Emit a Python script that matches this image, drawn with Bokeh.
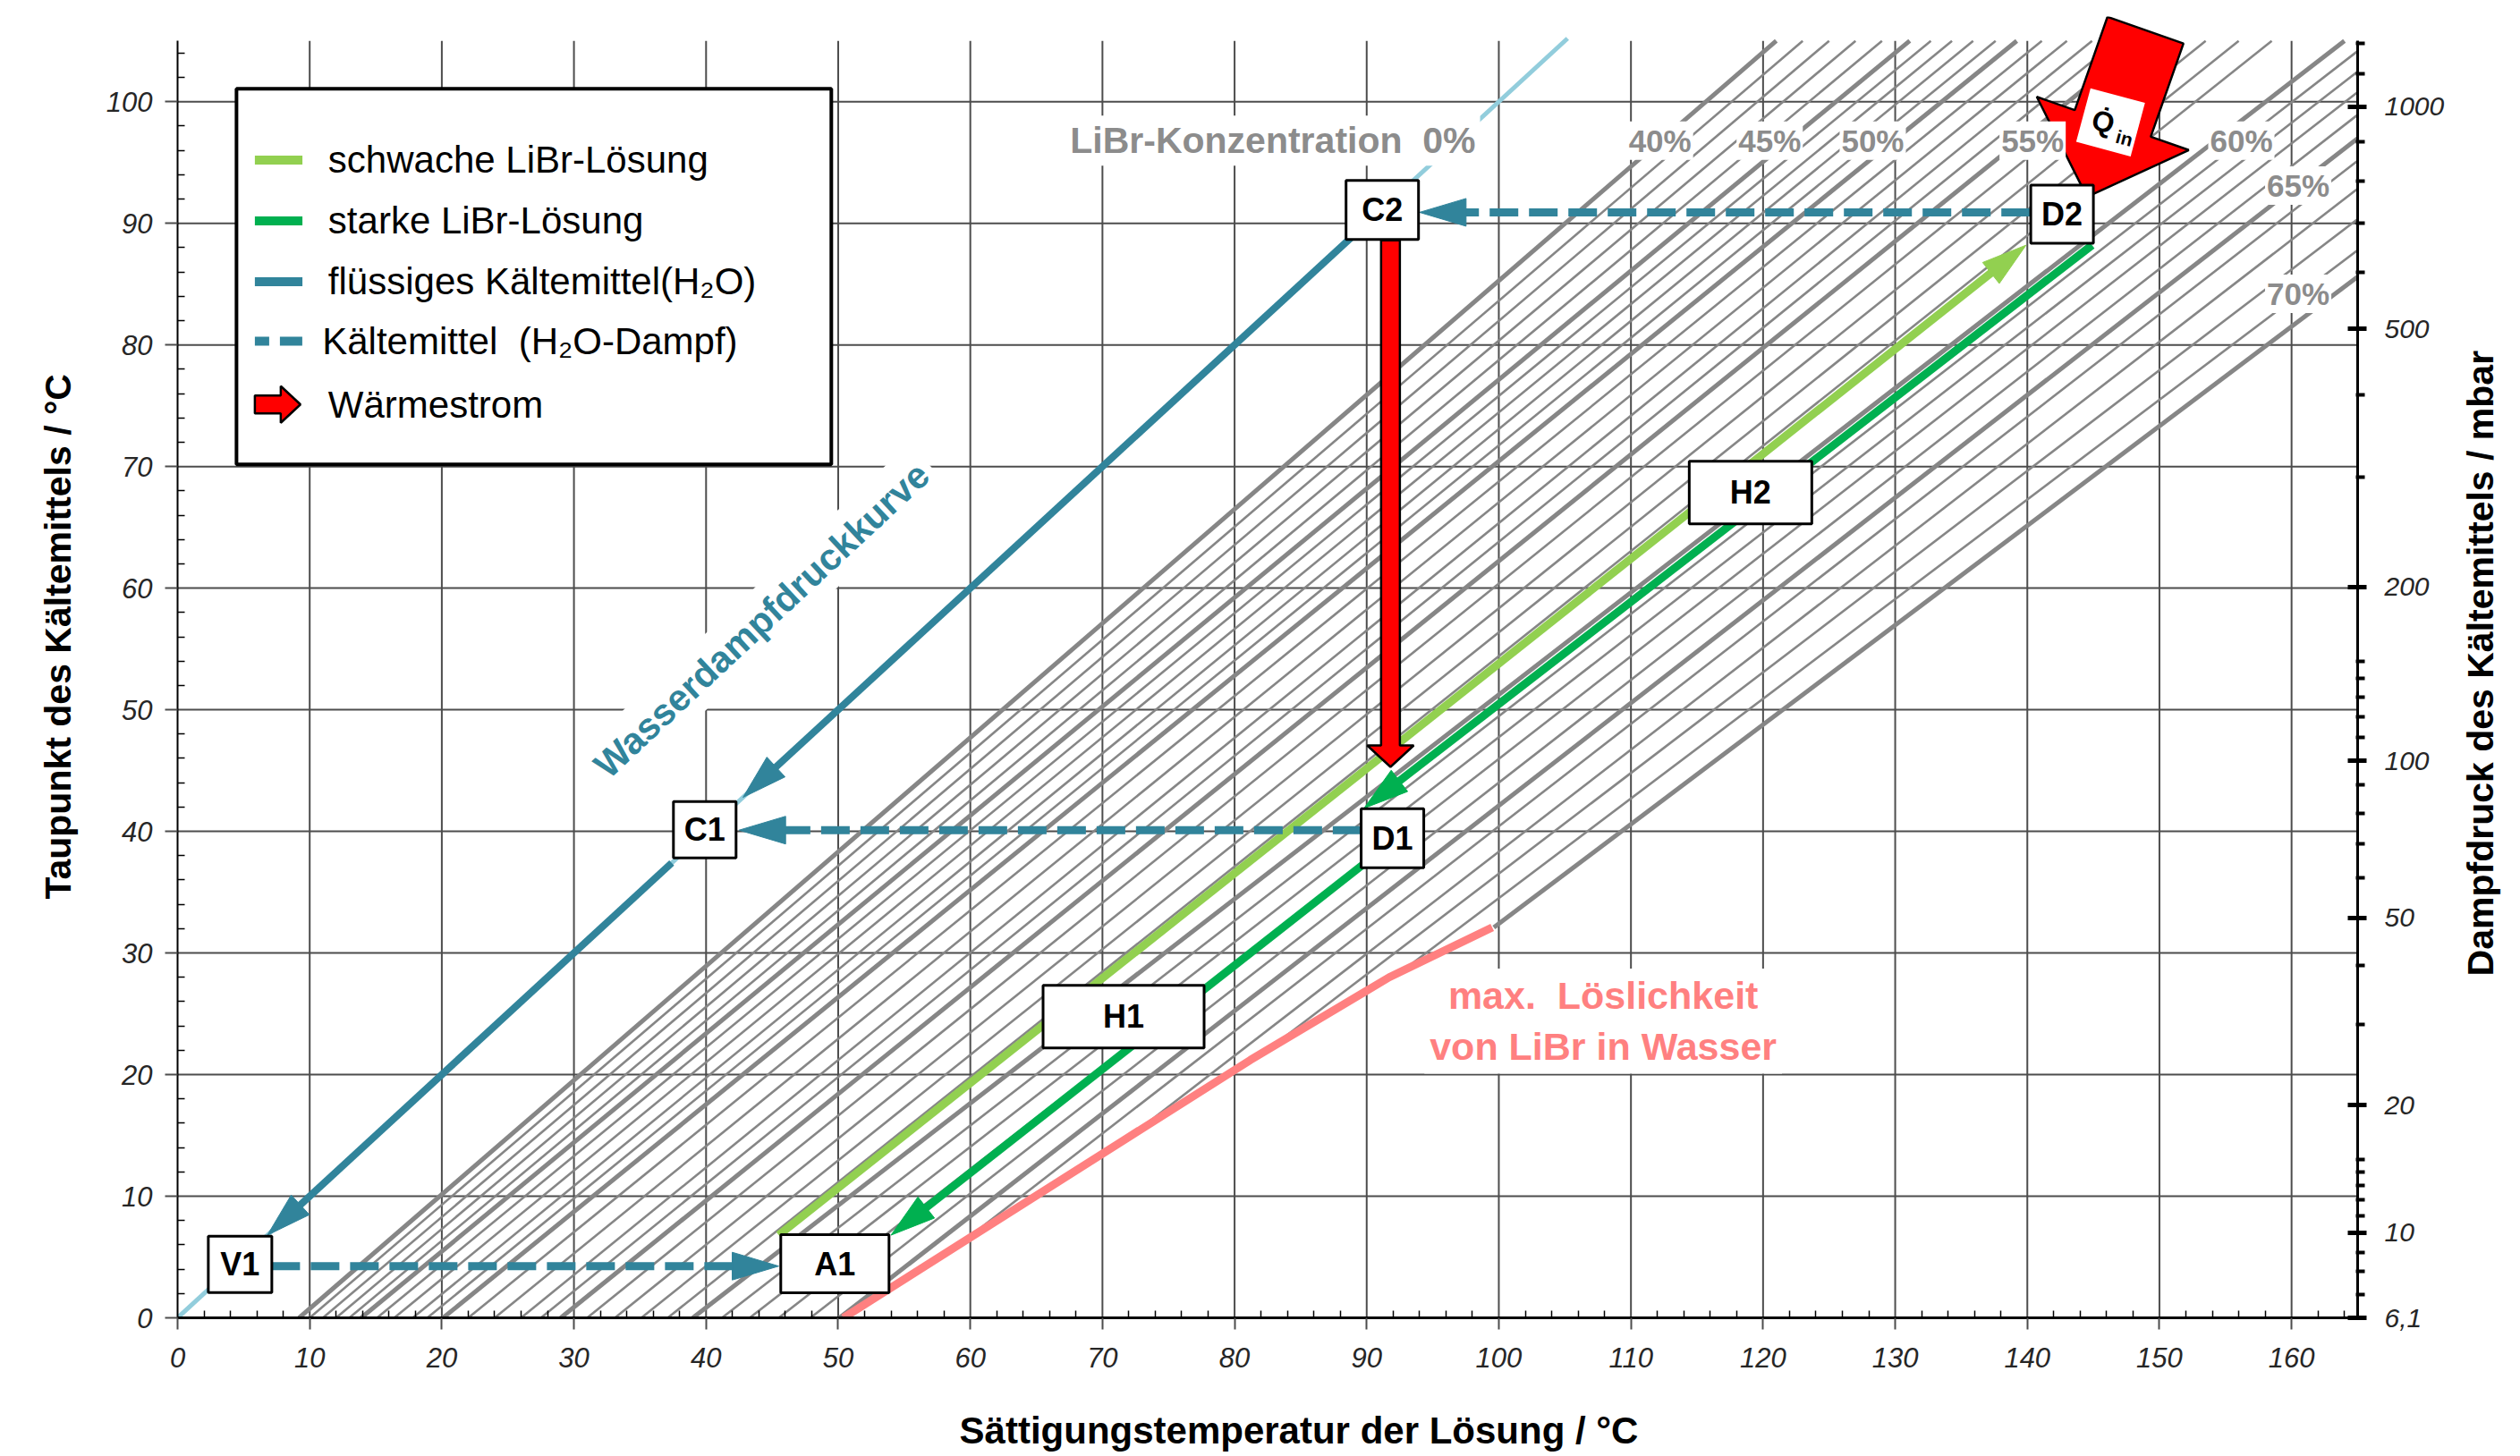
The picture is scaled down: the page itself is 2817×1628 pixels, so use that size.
import math
from bokeh.plotting import figure
from bokeh.models import Range1d, LinearAxis, FixedTicker, Label
from bokeh.core.properties import value
from bokeh.embed import file_html
from bokeh.resources import INLINE

FONT = "Liberation Sans"

# ------------------------------------------------------------------ data
# LiBr concentration isolines (Duehring chart): solution temperature (deg C)
# read at refrigerant dew point 0 deg C and at 105 deg C
libr_conc = list(range(40, 71))
iso_tsol_dew0 = [9.2, 10.0, 11.0, 12.0, 13.0, 13.9, 15.1, 16.4, 17.8, 18.9,
                 20.1, 22.0, 24.0, 26.0, 27.5, 29.0, 31.0, 33.1, 35.1, 37.1,
                 39.0, 41.2, 43.3, 45.5, 47.9, 50.1, 52.0, 54.3, 55.9, 57.9, 60.4]
iso_tsol_dew105 = [121.0, 123.0, 125.0, 127.0, 129.0, 131.1, 132.7, 134.3, 135.9, 137.6,
                   139.2, 141.1, 143.0, 144.9, 146.8, 148.8, 151.0, 153.5, 156.0, 158.5,
                   164.0, 166.0, 168.0, 170.0, 172.2, 174.5, 176.7, 179.5, 182.7, 186.0, 188.7]
conc_label_text = ["40%", "45%", "50%", "55%", "60%", "65%", "70%"]
conc_label_x = [112.2, 120.5, 128.3, 140.4, 156.2, 160.5, 160.5]
conc_label_y = [96.8, 96.8, 96.8, 96.8, 96.8, 93.1, 84.2]

# pure water (0 % LiBr): dew point = saturation temperature
water_t = [0.0, 105.2]

# maximum solubility of LiBr in water (crystallisation limit)
solub_x = [50.4, 81.2, 91.7, 99.5]
solub_y = [0.0, 21.2, 28.0, 32.1]

# cycle states
state_name = ["V1", "A1", "H1", "D1", "C1", "H2", "D2", "C2"]
state_x = [4.73, 49.75, 71.6, 91.95, 39.9, 119.05, 142.63, 91.18]
state_y = [4.39, 4.44, 24.76, 39.43, 40.14, 67.85, 90.74, 91.09]

# process paths (start -> arrow tip)
weak_x, weak_y = [45.5, 139.9], [6.8, 88.2]
strong_hi_x, strong_hi_y = [144.9, 89.8], [88.2, 41.9]
strong_lo_x, strong_lo_y = [89.7, 54.0], [37.25, 6.8]
liquid_hi_t = [91.1, 42.8]
liquid_lo_t = [37.4, 6.8]
vapour_x_from = [7.1, 89.6, 140.2]
vapour_x_to = [45.5, 42.5, 94.0]
vapour_y = [4.25, 40.1, 90.9]
heat_x, heat_y = [91.8, 91.8], [88.6, 45.3]
qin_x, qin_y = [148.94, 144.52], [105.88, 92.17]

# axes
x_major = list(range(0, 161, 10))
x_minor = [v for v in range(2, 165, 2) if v % 10]
y_major = list(range(0, 101, 10))
y_minor = [v for v in range(2, 105, 2) if v % 10]
p_major_label = ["6,1", "10", "20", "50", "100", "200", "500", "1000"]
p_major_dew = [0.0, 7.0, 17.5, 32.9, 45.8, 60.1, 81.3, 99.6]
p_minor_dew = [1.9, 3.8, 5.4, 8.4, 9.7, 10.9, 12.0, 13.0, 24.1, 29.0, 36.2, 39.0,
               41.5, 43.8, 47.7, 49.4, 51.0, 52.6, 54.0, 69.1, 75.9, 86.0, 90.0,
               93.5, 96.7, 102.3, 104.8]
right_title = "Dampfdruck des Kältemittels / mbar"
right_title_start = 28.1   # dew point where the right-hand title begins

legend_text = ["schwache LiBr-Lösung", "starke LiBr-Lösung",
               "flüssiges Kältemittel(H\u2082O)", "Kältemittel\u00a0\u00a0(H\u2082O-Dampf)",
               "Wärmestrom"]

# ------------------------------------------------------------------ styles
GRID = "#4d4d4d"
HATCH = "#868686"
TEAL = "#31849B"
LIGHTBLUE = "#92CDDC"
LGREEN = "#92D050"
DGREEN = "#00B050"
RED = "#FF0000"
SALMON = "#FF8080"
GRAYTXT = "#8c8c8c"
TOP = 105.0
NB = "\u00a0"

X_MAX, Y_MAX = 165.0, 107.0
FW, FH = 2437, 1455
SX, SY = FW / X_MAX, FH / Y_MAX

BOX_W = [71, 121, 180, 70, 70, 137, 70, 81]
BOX_H = [63, 65, 70, 66, 63, 70, 65, 66]

p = figure(frame_width=FW, frame_height=FH,
           x_range=Range1d(0, X_MAX), y_range=Range1d(0, Y_MAX),
           x_axis_type=None, y_axis_type=None,
           output_backend="svg", toolbar_location=None,
           min_border_left=198, min_border_right=182,
           min_border_top=18, min_border_bottom=155)
p.outline_line_color = None
p.background_fill_color = "white"
p.border_fill_color = "white"


def _px(x, y):
    return x * SX, y * SY


def _dt(px, py):
    return px / SX, py / SY


def head_polygon(x0, y0, x1, y1, length, width):
    ax, ay = _px(x0, y0)
    bx, by = _px(x1, y1)
    d = math.hypot(bx - ax, by - ay)
    ux, uy = (bx - ax) / d, (by - ay) / d
    nx, ny = -uy, ux
    cx, cy = bx - ux * length, by - uy * length
    pts = [(bx, by), (cx + nx * width / 2, cy + ny * width / 2),
           (cx - nx * width / 2, cy - ny * width / 2)]
    xs, ys = zip(*[_dt(*q) for q in pts])
    base = _dt(cx + ux * 3, cy + uy * 3)
    return list(xs), list(ys), base


def draw_arrow(x0, y0, x1, y1, color, width, dash="solid", head_len=50, head_w=30):
    hx, hy, (bx, by) = head_polygon(x0, y0, x1, y1, head_len, head_w)
    p.line([x0, bx], [y0, by], line_color=color, line_width=width, line_dash=dash)
    p.patch(hx, hy, fill_color=color, line_color=color, line_width=1)


def block_arrow(x0, y0, x1, y1, shaft_w, head_w, head_len):
    ax, ay = _px(x0, y0)
    bx, by = _px(x1, y1)
    d = math.hypot(bx - ax, by - ay)
    ux, uy = (bx - ax) / d, (by - ay) / d
    nx, ny = -uy, ux
    cx, cy = bx - ux * head_len, by - uy * head_len
    pts = [(ax + nx * shaft_w / 2, ay + ny * shaft_w / 2),
           (cx + nx * shaft_w / 2, cy + ny * shaft_w / 2),
           (cx + nx * head_w / 2, cy + ny * head_w / 2),
           (bx, by),
           (cx - nx * head_w / 2, cy - ny * head_w / 2),
           (cx - nx * shaft_w / 2, cy - ny * shaft_w / 2),
           (ax - nx * shaft_w / 2, ay - ny * shaft_w / 2)]
    xs, ys = zip(*[_dt(*q) for q in pts])
    return list(xs), list(ys)


# ------------------------------------------------------------------ grid
gx = [v for v in x_major if v > 0]
gy = [v for v in y_major if v > 0]
p.segment(x0=gx, y0=[0] * len(gx), x1=gx, y1=[TOP] * len(gx), line_color=GRID, line_width=2)
p.segment(x0=[0] * len(gy), y0=gy, x1=[X_MAX] * len(gy), y1=gy, line_color=GRID, line_width=2)

# ------------------------------------------------------------------ isolines


def solub_start(x0, x1):
    if x0 <= solub_x[0]:
        return 0.0
    f = lambda y: x0 + (x1 - x0) * y / TOP
    for k in range(len(solub_x) - 1):
        ya, yb = solub_y[k], solub_y[k + 1]
        fa, fb = f(ya) - solub_x[k], f(yb) - solub_x[k + 1]
        if fa >= 0 >= fb:
            t = fa / (fa - fb) if fa != fb else 0
            return ya + t * (yb - ya)
    return solub_y[-1]


thick = {"x0": [], "y0": [], "x1": [], "y1": []}
thin = {"x0": [], "y0": [], "x1": [], "y1": []}
for c, xa, xb in zip(libr_conc, iso_tsol_dew0, iso_tsol_dew105):
    ys = solub_start(xa, xb)
    xs = xa + (xb - xa) * ys / TOP
    d = thick if c % 5 == 0 else thin
    d["x0"].append(xs); d["y0"].append(ys); d["x1"].append(xb); d["y1"].append(TOP)
p.segment(**thin, line_color=HATCH, line_width=2.6)
p.segment(**thick, line_color=HATCH, line_width=5)

# water vapour pressure curve (0 %)
p.line(water_t, water_t, line_color=LIGHTBLUE, line_width=5)

# solubility limit
p.line(solub_x, solub_y, line_color=SALMON, line_width=9)

# liquid refrigerant
draw_arrow(liquid_hi_t[0], liquid_hi_t[0], liquid_hi_t[1], liquid_hi_t[1], TEAL, 8)
draw_arrow(liquid_lo_t[0], liquid_lo_t[0], liquid_lo_t[1], liquid_lo_t[1], TEAL, 8)

# solution paths
draw_arrow(weak_x[0], weak_y[0], weak_x[1], weak_y[1], LGREEN, 9)
draw_arrow(strong_hi_x[0], strong_hi_y[0], strong_hi_x[1], strong_hi_y[1], DGREEN, 9)
draw_arrow(strong_lo_x[0], strong_lo_y[0], strong_lo_x[1], strong_lo_y[1], DGREEN, 9)

# refrigerant vapour
for xa, xb, yv in zip(vapour_x_from, vapour_x_to, vapour_y):
    draw_arrow(xa, yv, xb, yv, TEAL, 9, dash="32 12", head_len=52, head_w=31)

# heat flows
hx, hy = block_arrow(heat_x[0], heat_y[0], heat_x[1], heat_y[1], 21, 52, 24)
p.patch(hx, hy, fill_color=RED, line_color="black", line_width=2.5)
qx, qy = block_arrow(qin_x[0], qin_y[0], qin_x[1], qin_y[1], 90, 180, 87)
p.patch(qx, qy, fill_color=RED, line_color="black", line_width=2.5)
q_ang = -15 * math.pi / 180
p.rect([146.3], [98.3], width=63, height=62, width_units="screen", height_units="screen",
       angle=q_ang, fill_color="white", line_color=None)
p.text([145.75], [98.35], text=["Q\u0307"], angle=q_ang, text_font=value(FONT),
       text_font_style="bold", text_font_size="32px", text_align="center",
       text_baseline="middle", text_color="black")
p.text([147.35], [97.0], text=["in"], angle=q_ang, text_font=value(FONT),
       text_font_style="bold", text_font_size="21px", text_align="center",
       text_baseline="middle", text_color="black")

# state boxes
p.rect(state_x, state_y, width=BOX_W, height=BOX_H, width_units="screen",
       height_units="screen", fill_color="white", line_color="black", line_width=3)
p.text(state_x, state_y, text=state_name, text_font=value(FONT), text_font_style="bold",
       text_font_size="36px", text_align="center", text_baseline="middle",
       text_color="black")

# ------------------------------------------------------------------ legend (drawn)
LX0, LX1, LY0, LY1 = 4.46, 49.48, 70.18, 101.07
row_y = [95.2, 90.2, 85.2, 80.3, 75.1]
p.quad(left=[LX0], right=[LX1], bottom=[LY0], top=[LY1], fill_color="white",
       line_color="black", line_width=4)
for yy, col in zip(row_y[:3], [LGREEN, DGREEN, TEAL]):
    p.line([5.85, 9.45], [yy, yy], line_color=col, line_width=10)
p.line([5.85, 9.45], [row_y[3], row_y[3]], line_color=TEAL, line_width=10,
       line_dash="16 12 25 30")
lx, ly = block_arrow(5.85, row_y[4], 9.3, row_y[4], 20, 41, 22)
p.patch(lx, ly, fill_color=RED, line_color="black", line_width=2.5)
p.text([11.4, 11.4, 11.4, 10.95, 11.4], row_y, text=legend_text, text_font=value(FONT),
       text_font_size="42px", text_align="left", text_baseline="middle",
       text_color="black")

# ------------------------------------------------------------------ labels


def add_label(x, y, text, color, size, angle=0.0, style="bold", pad=4):
    p.add_layout(Label(x=x, y=y, text=text, text_color=color, text_font=FONT,
                       text_font_size=size, text_font_style=style, angle=angle,
                       text_align="center", text_baseline="middle",
                       background_fill_color="white", background_fill_alpha=1.0,
                       padding=pad))


for t, x, y in zip(conc_label_text, conc_label_x, conc_label_y):
    add_label(x, y, t, GRAYTXT, "35px", pad=2)
add_label(82.9, 96.8, "LiBr-Konzentration\u00a0\u00a00%", GRAYTXT, "41px", pad=5)
add_label(44.2, 57.4, "Wasserdampfdruckkurve", TEAL, "41.5px", angle=43 * math.pi / 180, pad=8)
add_label(107.9, 24.4, "max.\u00a0 Löslichkeit\nvon LiBr in Wasser", SALMON, "43px", pad=6)

# ------------------------------------------------------------------ axes


def style_axis(ax, title_size="40px"):
    ax.axis_line_color = "black"
    ax.major_tick_line_color = "black"
    ax.minor_tick_line_color = "black"
    ax.major_label_text_font = FONT
    ax.major_label_text_font_style = "italic"
    ax.major_label_text_font_size = "31px"
    ax.major_label_text_color = "#262626"
    ax.axis_label_text_font = FONT
    ax.axis_label_text_font_style = "bold"
    ax.axis_label_text_font_size = title_size
    ax.axis_label_text_color = "black"


xax = LinearAxis(ticker=FixedTicker(ticks=x_major, minor_ticks=x_minor),
                 axis_label=NB * 6 + "Sättigungstemperatur der Lösung / °C",
                 bounds=(0, X_MAX))
style_axis(xax, "42px")
xax.axis_line_width = 3
xax.major_tick_in, xax.major_tick_out = 0, 13
xax.minor_tick_in, xax.minor_tick_out = 8, 0
xax.major_tick_line_width, xax.minor_tick_line_width = 2, 1.5
xax.major_tick_line_color = GRID
xax.major_label_standoff = 20
xax.axis_label_standoff = 44
p.add_layout(xax, "below")

yax = LinearAxis(ticker=FixedTicker(ticks=y_major, minor_ticks=y_minor),
                 axis_label=NB * 6 + "Taupunkt des Kältemittels / °C", bounds=(0, TOP))
style_axis(yax, "41px")
yax.axis_line_width = 2
yax.major_tick_in, yax.major_tick_out = 0, 14
yax.minor_tick_in, yax.minor_tick_out = 8, 0
yax.major_tick_line_width, yax.minor_tick_line_width = 2, 1.5
yax.major_tick_line_color = GRID
yax.major_label_standoff = 14
yax.axis_label_standoff = 28
p.add_layout(yax, "left")

rax = LinearAxis(ticker=FixedTicker(ticks=p_major_dew, minor_ticks=p_minor_dew),
                 major_label_overrides=dict(zip(p_major_dew, p_major_label)),
                 bounds=(0, TOP))
style_axis(rax)
rax.major_label_text_font_size = "30px"
rax.axis_line_width = 3
rax.major_tick_in, rax.major_tick_out = 11, 10
rax.minor_tick_in, rax.minor_tick_out = 2, 8
rax.major_tick_line_width, rax.minor_tick_line_width = 5, 4
rax.major_label_standoff = 20
p.add_layout(rax, "right")

# right-hand title, carried as the single (rotated) label of a bare outer axis
rtitle = LinearAxis(ticker=FixedTicker(ticks=[right_title_start], minor_ticks=[]),
                    major_label_overrides={right_title_start: right_title},
                    major_label_orientation=math.pi / 2)
rtitle.axis_line_color = None
rtitle.major_tick_line_color = None
rtitle.minor_tick_line_color = None
rtitle.major_tick_in, rtitle.major_tick_out = 0, 0
rtitle.minor_tick_in, rtitle.minor_tick_out = 0, 0
rtitle.major_label_text_font = FONT
rtitle.major_label_text_font_style = "bold"
rtitle.major_label_text_font_size = "41px"
rtitle.major_label_text_color = "black"
rtitle.major_label_standoff = 38
p.add_layout(rtitle, "right")

open("out.html", "w").write(file_html(p, INLINE))
